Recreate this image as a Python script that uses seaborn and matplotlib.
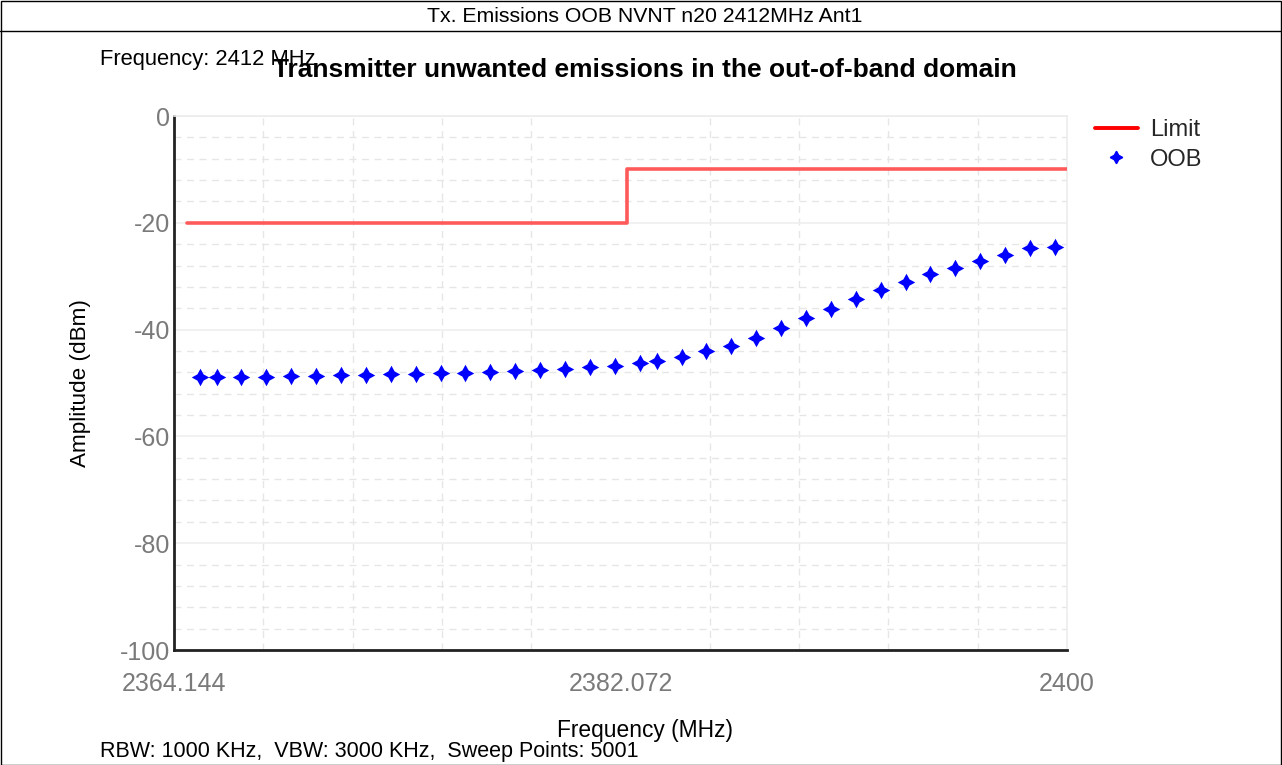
import matplotlib
matplotlib.use("Agg")
import matplotlib.pyplot as plt
from matplotlib.lines import Line2D
from matplotlib.patches import Rectangle
from matplotlib.ticker import FixedLocator, MultipleLocator
import numpy as np
import pandas as pd
import seaborn as sns

# Limit mask (dBm) over the out-of-band span
limit_freq = [2364.65, 2382.33, 2400.0]
limit_level = [-20.0, -10.0, -10.0]

# Measured OOB emission peaks
oob_freq = [2365.19, 2365.86, 2366.83, 2367.84, 2368.84, 2369.85, 2370.84, 2371.84,
            2372.85, 2373.85, 2374.85, 2375.84, 2376.83, 2377.84, 2378.84, 2379.84,
            2380.85, 2381.85, 2382.86, 2383.53, 2384.53, 2385.51, 2386.51, 2387.51,
            2388.52, 2389.52, 2390.51, 2391.52, 2392.52, 2393.52, 2394.51, 2395.52,
            2396.52, 2397.52, 2398.53, 2399.52]
oob_level = [-48.93, -48.93, -48.82, -48.82, -48.69, -48.69, -48.50, -48.50,
             -48.37, -48.31, -48.18, -48.07, -47.89, -47.76, -47.57, -47.38,
             -47.06, -46.76, -46.20, -45.83, -45.19, -44.01, -43.07, -41.52,
             -39.76, -37.88, -36.14, -34.27, -32.58, -31.14, -29.59, -28.41,
             -27.10, -26.03, -24.78, -24.48]

x_ticks = [2364.144, 2382.072, 2400]
x_tick_labels = ["2364.144", "2382.072", "2400"]
y_ticks = [0, -20, -40, -60, -80, -100]

header = "Tx. Emissions OOB NVNT n20 2412MHz Ant1"
title = "Transmitter unwanted emissions in the out-of-band domain"
freq_note = "Frequency: 2412 MHz"
sweep_note = "RBW: 1000 KHz,  VBW: 3000 KHz,  Sweep Points: 5001"

sns.set_theme(style="white")
plt.rcParams["font.family"] = ["Liberation Sans", "DejaVu Sans"]
plt.rcParams["axes.unicode_minus"] = False

W, H = 1282, 765
fig = plt.figure(figsize=(W / 100, H / 100), dpi=100)
ax = fig.add_axes([174 / W, 1 - 650 / H, (1067 - 174) / W, (650 - 116) / H])

limit_df = pd.DataFrame({"freq": limit_freq, "level": limit_level})
oob_df = pd.DataFrame({"freq": oob_freq, "level": oob_level})

sns.lineplot(data=limit_df, x="freq", y="level", ax=ax, color="#ff5a5a",
             linewidth=2.6, drawstyle="steps-post", estimator=None, legend=False, zorder=3)
sns.scatterplot(data=oob_df, x="freq", y="level", ax=ax, color="#0000ff",
                marker=(4, 1, 0), s=160, linewidth=0, legend=False, zorder=4)

ax.set_xlim(x_ticks[0], x_ticks[-1])
ax.set_ylim(-100, 0)

ax.xaxis.set_major_locator(FixedLocator(x_ticks))
ax.set_xticklabels(x_tick_labels)
ax.xaxis.set_minor_locator(FixedLocator(np.linspace(x_ticks[0], x_ticks[-1], 11)))
ax.yaxis.set_major_locator(FixedLocator(y_ticks))
ax.yaxis.set_minor_locator(MultipleLocator(4))

ax.grid(False)
ax.grid(which="minor", axis="x", color="#e6e6e6", linestyle=(0, (5, 4)), linewidth=1.0)
ax.grid(which="minor", axis="y", color="#e6e6e6", linestyle=(0, (5, 4)), linewidth=1.0)
ax.grid(which="major", axis="y", color="#efefef", linestyle="-", linewidth=1.2)

ax.tick_params(axis="both", which="both", length=0, labelsize=18, labelcolor="#7a7a7a")
ax.tick_params(axis="x", pad=16)
ax.tick_params(axis="y", pad=3)

for side in ("left", "bottom"):
    ax.spines[side].set_color("#222222")
    ax.spines[side].set_linewidth(2.0)
for side in ("top", "right"):
    ax.spines[side].set_color("#ececec")
    ax.spines[side].set_linewidth(1.2)

ax.set_xlabel("Frequency (MHz)", fontsize=16.4, color="black")
ax.xaxis.set_label_coords((645 - 174) / 893, -(730 - 650) / 534)
ax.xaxis.label.set_va("center")
ax.set_ylabel("Amplitude (dBm)", fontsize=16.2, color="black")
ax.yaxis.set_label_coords((80 - 174) / 893, 0.5)
ax.yaxis.label.set_va("center")

handles = [
    Line2D([], [], color="#ff0000", linewidth=2.8),
    Line2D([], [], color="#0000ff", marker=(4, 1, 0), linestyle="none", markersize=9),
]
fig.legend(handles, ["Limit", "OOB"], loc="upper left",
           bbox_to_anchor=(1095 / W, 1 - 119 / H), frameon=False,
           borderaxespad=0, borderpad=0,
           fontsize=17, handlelength=1.82, handletextpad=0.5, labelspacing=0.32)

fig.text(645 / W, 1 - 70 / H, title, ha="center", va="center",
         fontsize=19, fontweight="bold", color="black")
fig.text(100 / W, 1 - 59 / H, freq_note, ha="left", va="center",
         fontsize=15.8, color="black")
fig.text(100 / W, 1 - 752 / H, sweep_note, ha="left", va="center",
         fontsize=15.5, color="black")

# Report frame with its header row
fig.patches.append(Rectangle((0.5 / W, 0), 1 - 2 / W, 1 - 1 / H, transform=fig.transFigure,
                             fill=False, edgecolor="black", linewidth=1.0))
fig.add_artist(Line2D([0, 1], [1 - 31 / H, 1 - 31 / H], transform=fig.transFigure,
                      color="black", linewidth=1.0))
fig.text(645 / W, 1 - 16 / H, header, ha="center", va="center",
         fontsize=15.3, color="black")

fig.savefig("out.png", dpi=100)
